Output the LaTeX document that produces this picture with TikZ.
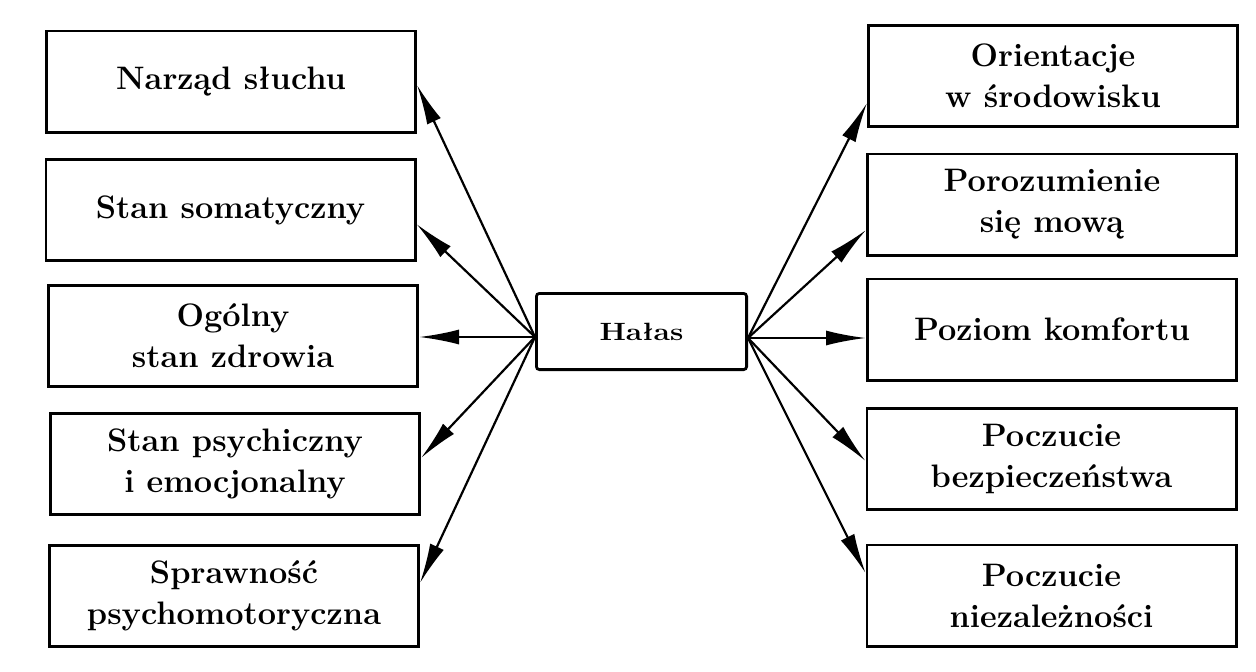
\documentclass[tikz,border=0pt]{standalone}
\usepackage{graphicx}
\usetikzlibrary{arrows.meta,calc}
\begin{document}
\begin{tikzpicture}[x=1pt,y=-1pt,
  box/.style={draw,line width=2.8pt,minimum width=369.2pt,minimum height=101.2pt,
    inner sep=0pt,align=center,font=\fontsize{32.5}{41}\selectfont\bfseries},
  hub/.style={draw,line width=2.8pt,rounded corners=3pt,minimum width=210.2pt,
    minimum height=76.2pt,inner sep=0pt,font=\fontsize{25}{28}\selectfont\bfseries},
  arr/.style={line width=2.2pt,-{Latex[length=40pt,width=15pt]}}]
\path[use as bounding box,fill=white] (0,0) rectangle (1256,672);

\node[box] (L1) at (231,81.5) {Narząd słuchu};
\node[box] (L2) at (230.5,210) {Stan somatyczny};
\node[box] (L3) at (233,336) {Ogólny\\stan zdrowia};
\node[box] (L4) at (235,464) {Stan psychiczny\\i emocjonalny};
\node[box] (L5) at (234,596) {Sprawność\\psychomotoryczna};

\node[box] (R1) at (1053,76) {Orientacje\\w środowisku};
\node[box] (R2) at (1052,204.5) {Porozumienie\\się mową};
\node[box] (R3) at (1052,329.5) {Poziom komfortu};
\node[box] (R4) at (1051.5,459) {Poczucie\\bezpieczeństwa};
\node[box] (R5) at (1051.5,595.5) {Poczucie\\niezależności};

\node[hub] (H) at (641.5,331.5) {\scalebox{1.2}[1]{Hałas}};

\coordinate (hl) at ($(H.west)+(0,5.5)$);
\coordinate (hr) at ($(H.east)+(0,6.5)$);

\draw[arr] (hl) -- ($(L1.east)+(0,3.5)$);
\draw[arr] (hl) -- ($(L2.east)+(0,14)$);
\draw[arr] (hl) -- ($(L3.east)+(0,1)$);
\draw[arr] (hl) -- ($(L4.east)+(0,-6)$);
\draw[arr] (hl) -- ($(L5.east)+(0,-13)$);

\draw[arr] (hr) -- ($(R1.west)+(0,27)$);
\draw[arr] (hr) -- ($(R2.west)+(0,25.5)$);
\draw[arr] (hr) -- ($(R3.west)+(0,8.5)$);
\draw[arr] (hr) -- ($(R4.west)+(0,2)$);
\draw[arr] (hr) -- ($(R5.west)+(0,-22.5)$);
\end{tikzpicture}
\end{document}
